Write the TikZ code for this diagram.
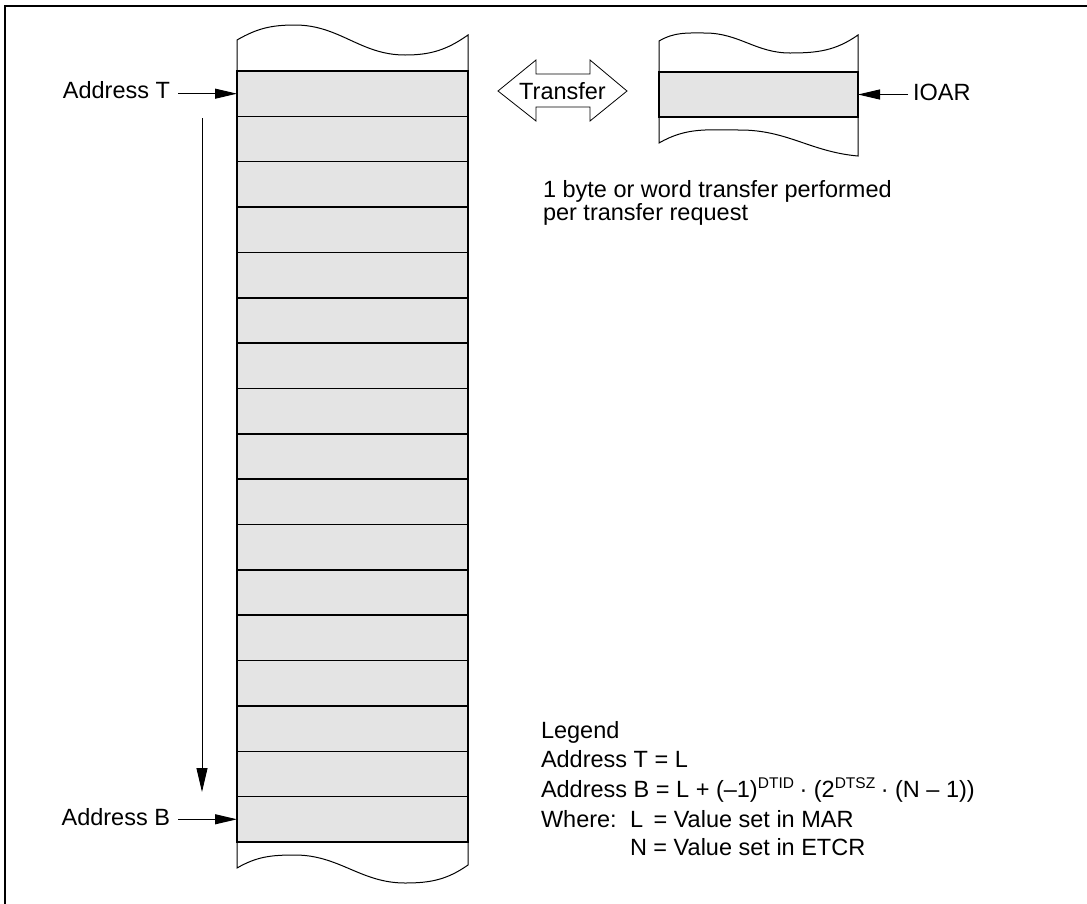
\documentclass[tikz,border=0pt]{standalone}
\usepackage{fontspec}
\setmainfont{Liberation Sans}
\usetikzlibrary{arrows.meta}
\definecolor{memgray}{RGB}{228,228,228}
\newcommand\supr[1]{\raisebox{9pt}{\fontsize{15.5}{15.5}\selectfont #1}}
\begin{document}
\begin{tikzpicture}[x=1pt,y=-1pt,
  every node/.style={font=\fontsize{23.5}{28}\selectfont, inner sep=0pt, outer sep=0pt},
  cell/.style={draw, fill=memgray, line width=1.5pt, minimum width=231pt, minimum height=45.35pt, anchor=north west},
  iocell/.style={draw, fill=memgray, line width=1.5pt, minimum width=199pt, minimum height=45pt, anchor=north west},
  wave/.style={line width=1pt},
  arr/.style={line width=1pt, -{Triangle[length=22pt,width=10pt]}},
  frame/.style={line width=2.7pt},
  txt/.style={anchor=base west}
]
\useasboundingbox (0,0) rectangle (1087,903);
% frame (open at right and bottom)
\draw[frame] (5,910) -- (5,6) -- (1095,6);

% memory column
\foreach \k in {1,...,17}{
  \node[cell] (r\k) at (237,{71+45.35*(\k-1)}) {};
}
\draw[wave] (r1.north west) -- (237,40) to[out=30,in=180] (295,25) to[out=0,in=180] (405,55) to[out=0,in=215] (468,35) -- (r1.north east);
\draw[wave] (r17.south west) -- (237,868) to[out=30,in=180] (295,855) to[out=0,in=180] (405,883) to[out=0,in=215] (468,865) -- (r17.south east);

% address labels
\node[anchor=base east] (adt) at (170,98) {Address T};
\node[anchor=base east] (adb) at (170,825) {Address B};
\draw[arr] (adt.east |- r1.west) ++(8,0) -- (r1.west);
\draw[arr] (adb.east |- r17.west) ++(8,0) -- (r17.west);

% direction arrow
\coordinate (vs) at (202,118);
\coordinate (ve) at (202,792);
\draw[arr, -{Triangle[length=24pt,width=11pt]}] (vs) -- (ve);

% IOAR block
\node[iocell] (io) at (659,72) {};
\draw[wave] (io.north west) -- (659,41) to[out=30,in=180] (705,33) to[out=0,in=180] (790,53) to[out=0,in=215] (858,35) -- (io.north east);
\draw[wave] (io.south west) -- (659,143) to[out=30,in=180] (740,130) to[out=0,in=175] (858,156) -- (io.south east);
\node[txt] (ioar) at (913,100) {IOAR};
\draw[arr] (ioar.west |- io.east) ++(-5,0) -- (io.east);

% transfer double arrow
\draw[line width=0.8pt] (498,91) -- (536,60) -- (536,74) -- (590,74) -- (590,60) -- (627,91)
  -- (590,121) -- (590,107) -- (536,107) -- (536,121) -- cycle;
\node[anchor=base] (tr) at (562.5,99) {Transfer};

% note
\node[txt] (n1) at (543,197) {1 byte or word transfer performed};
\node[txt] (n2) at (543,220) {per transfer request};

% legend
\node[txt] (lg) at (541,738) {Legend};
\node[txt] (lt) at (541,767) {Address T = L};
\node[txt] (lb) at (541,797) {Address B = L + (–1)\supr{DTID}\hspace{-1pt} · (2\supr{DTSZ}\hspace{-1pt} · (N – 1))};
\node[txt] (lw) at (541,827) {Where:};
\node[txt] (ll) at (630,827) {L \,= Value set in MAR};
\node[txt] (ln) at (630,855) {N = Value set in ETCR};
\end{tikzpicture}
\end{document}
